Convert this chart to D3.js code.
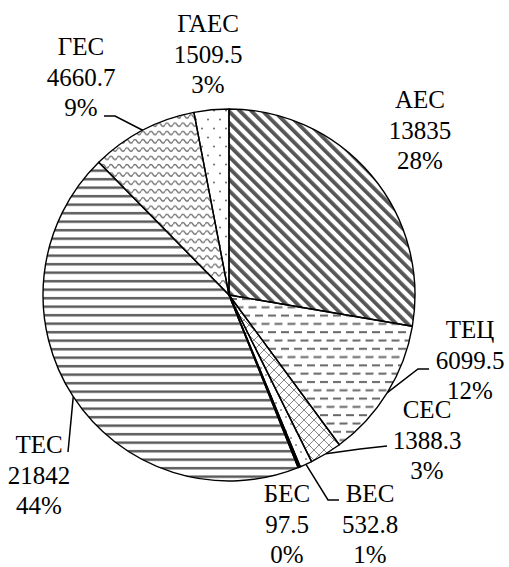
<!DOCTYPE html>
<meta charset="utf-8">
<script src="https://d3js.org/d3.v7.min.js"></script>

<div id="chart"></div>

<script>
  // data, clockwise from 12 o'clock
  const names  = ["АЕС", "ТЕЦ", "СЕС", "ВЕС", "БЕС", "ТЕС", "ГЕС", "ГАЕС"];
  const values = [13835, 6099.5, 1388.3, 532.8, 97.5, 21842, 4660.7, 1509.5];
  const fills  = ["url(#pAes)", "url(#pTec)", "url(#pSes)", "url(#pVes)", "#000",
                  "url(#pTes)", "url(#pGes)", "url(#pGaes)"];

  // where each label sits (centre x, first baseline) and leader bends
  const labelAt = [[420, 108], [470, 338], [427, 418], [370, 502], [287, 502],
                   [39, 453], [81, 55], [208, 32]];
  const leaderBends = [null, [[418, 369], [429, 369]], [[360, 449], [387, 446]],
                       [[328, 500], [339, 500]], null, [[68, 452]],
                       [[115, 116], [104, 116]], null];

  const W = 509, H = 567;
  const cx = 229, cy = 295, R = 186;
  const lineH = 30.5;

  d3.select("body").style("margin", "0").style("background", "#fff");

  const svg = d3.select("#chart")
    .append("svg")
      .attr("width", W)
      .attr("height", H)
      .style("display", "block");

  const defs = svg.append("defs");

  // diagonal stripes
  defs.append("pattern")
      .attr("id", "pAes").attr("patternUnits", "userSpaceOnUse")
      .attr("width", 8).attr("height", 8)
      .attr("patternTransform", "rotate(-45)")
    .append("rect")
      .attr("x", 0).attr("y", 0).attr("width", 3.8).attr("height", 8)
      .attr("fill", "#555");

  // staggered dashes
  const pTec = defs.append("pattern")
      .attr("id", "pTec").attr("patternUnits", "userSpaceOnUse")
      .attr("width", 13).attr("height", 16.6);
  [[0, 8, 4], [6.5, 13, 12.3], [-6.5, 1.5, 12.3]].forEach(function(s) {
    pTec.append("line")
      .attr("x1", s[0]).attr("x2", s[1]).attr("y1", s[2]).attr("y2", s[2])
      .attr("stroke", "#666").attr("stroke-width", 2);
  });

  // crosshatch
  const pSes = defs.append("pattern")
      .attr("id", "pSes").attr("patternUnits", "userSpaceOnUse")
      .attr("width", 10).attr("height", 10);
  pSes.append("path").attr("d", "M0,0L10,10M10,0L0,10")
      .attr("stroke", "#888").attr("stroke-width", 1).attr("fill", "none");

  // sparse dots
  const pVes = defs.append("pattern")
      .attr("id", "pVes").attr("patternUnits", "userSpaceOnUse")
      .attr("width", 10).attr("height", 14);
  [[2, 3], [7, 10]].forEach(function(p) {
    pVes.append("circle").attr("cx", p[0]).attr("cy", p[1]).attr("r", 0.9).attr("fill", "#777");
  });

  // horizontal lines
  defs.append("pattern")
      .attr("id", "pTes").attr("patternUnits", "userSpaceOnUse")
      .attr("width", 8).attr("height", 8.5)
    .append("rect")
      .attr("x", 0).attr("y", 2).attr("width", 8).attr("height", 2.4)
      .attr("fill", "#555");

  // waves
  defs.append("pattern")
      .attr("id", "pGes").attr("patternUnits", "userSpaceOnUse")
      .attr("width", 8).attr("height", 8.3)
    .append("path")
      .attr("d", "M0,4 Q2,0.5 4,4 T8,4")
      .attr("stroke", "#777").attr("stroke-width", 1.5).attr("fill", "none");

  // dots
  const pGaes = defs.append("pattern")
      .attr("id", "pGaes").attr("patternUnits", "userSpaceOnUse")
      .attr("width", 12).attr("height", 18);
  [[3, 4.5], [9, 13.5]].forEach(function(p) {
    pGaes.append("circle").attr("cx", p[0]).attr("cy", p[1]).attr("r", 1).attr("fill", "#666");
  });

  const total = d3.sum(values);

  const pie = d3.pie().sort(null).value(function(d) { return d; });
  const arcs = pie(values);

  const arc = d3.arc().innerRadius(0).outerRadius(R);

  const g = svg.append("g").attr("transform", `translate(${cx}, ${cy})`);

  g.selectAll("path.slice")
    .data(arcs)
    .join("path")
      .attr("class", "slice")
      .attr("d", arc)
      .attr("fill", function(d, i) { return fills[i]; })
      .attr("stroke", "#000")
      .attr("stroke-width", 1.4)
      .attr("stroke-linejoin", "round");

  // leader lines from the middle of each slice's arc
  const line = d3.line();
  arcs.forEach(function(d, i) {
    if (!leaderBends[i]) return;
    const a = (d.startAngle + d.endAngle) / 2;
    const start = [cx + R * Math.sin(a), cy - R * Math.cos(a)];
    svg.append("path")
      .attr("d", line([start].concat(leaderBends[i])))
      .attr("fill", "none")
      .attr("stroke", "#000")
      .attr("stroke-width", 1.5);
  });

  // labels: name, value, percent, one text per row
  arcs.forEach(function(d, i) {
    const rows = [names[i], String(values[i]), Math.round(values[i] / total * 100) + "%"];
    rows.forEach(function(r, k) {
      svg.append("text")
        .attr("x", labelAt[i][0])
        .attr("y", labelAt[i][1] + k * lineH)
        .style("font-family", "'Liberation Serif'")
        .style("font-size", "25px")
        .style("text-anchor", "middle")
        .text(r);
    });
  });
</script>
